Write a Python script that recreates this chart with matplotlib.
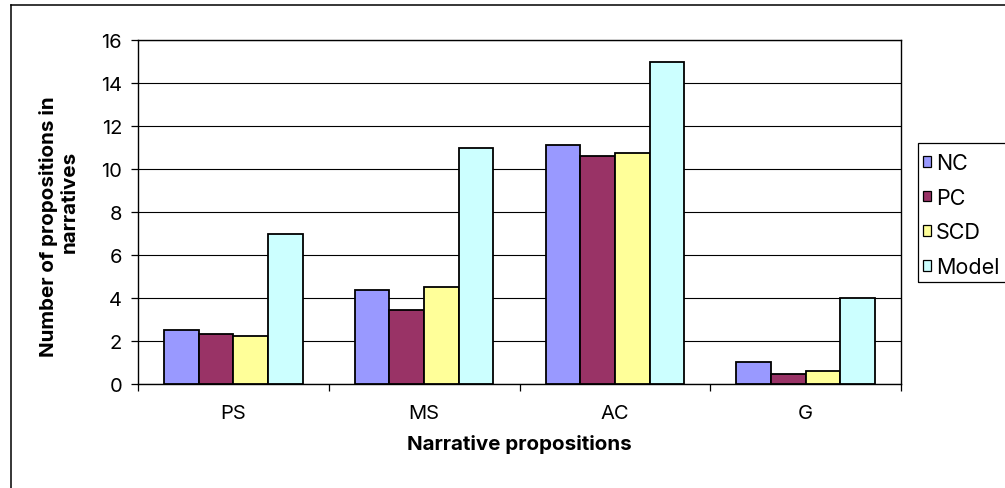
import matplotlib
matplotlib.use("Agg")
import matplotlib.pyplot as plt
from matplotlib.lines import Line2D
from matplotlib.patches import Rectangle
import numpy as np

plt.rcParams['font.family'] = ['Inter', 'DejaVu Sans']

categories = ["PS", "MS", "AC", "G"]
series_names = ["NC", "PC", "SCD", "Model"]
nc_values = [2.53, 4.37, 11.13, 1.01]
pc_values = [2.31, 3.44, 10.60, 0.47]
scd_values = [2.23, 4.53, 10.74, 0.62]
model_values = [7.0, 11.0, 15.0, 4.0]
y_ticks = [0, 2, 4, 6, 8, 10, 12, 14, 16]

series_values = [nc_values, pc_values, scd_values, model_values]
colors = ["#9999FF", "#993366", "#FFFF99", "#CCFFFF"]

W, H = 1005, 489
fig = plt.figure(figsize=(W / 100, H / 100), dpi=100)
ax = fig.add_axes([138 / W, 1 - 385 / H, (901 - 138) / W, (385 - 41) / H])

x = np.arange(len(categories))
width = 1 / 5.5  # four bars plus a 150% gap
for i, (name, vals, col) in enumerate(zip(series_names, series_values, colors)):
    offs = (i - 1.5) * width
    ax.bar(x + offs, vals, width=width, color=col, edgecolor="black",
           linewidth=1.3, label=name, zorder=3)

ax.set_xlim(-0.5, len(categories) - 0.5)
ax.set_ylim(0, 16)
ax.set_yticks(y_ticks)
ax.yaxis.grid(True, color="black", linewidth=0.8, zorder=0)
ax.set_axisbelow(True)

# category labels centred, tick marks on category boundaries
ax.set_xticks(x)
ax.set_xticklabels(categories)
ax.tick_params(axis="x", length=0, labelsize=14.5, pad=14.5)
ax.set_xticks(np.arange(-0.5, len(categories)), minor=True)
ax.tick_params(axis="x", which="minor", length=5, width=0.9, direction="out")
ax.tick_params(axis="y", length=5, width=0.9, labelsize=14.5, pad=6.5)

for sp in ax.spines.values():
    sp.set_color("black")
    sp.set_linewidth(1.0)

# axis titles
fig.text(519 / W, 1 - 450 / H, "Narrative propositions", fontsize=14.8,
         fontweight="bold", ha="center", va="baseline")
fig.text(54 / W, 1 - 227 / H, "Number of propositions in", fontsize=14.8,
         fontweight="bold", ha="center", va="baseline", rotation=90,
         rotation_mode="anchor")
fig.text(75 / W, 1 - 202 / H, "narratives", fontsize=14.8,
         fontweight="bold", ha="center", va="baseline", rotation=90,
         rotation_mode="anchor")

# legend entries, with a separately drawn square frame
leg = fig.legend(loc="upper left", bbox_to_anchor=(923 / W, 1 - 154 / H),
                 frameon=False, fontsize=15.5,
                 handlelength=0.38, handleheight=0.38, handletextpad=0.22,
                 labelspacing=0.68, borderpad=0, borderaxespad=0)
for h in leg.legend_handles:
    h.set_linewidth(0.9)
fig.add_artist(Rectangle((918 / W, 1 - 283 / H), 100 / W, (283 - 144) / H,
                         transform=fig.transFigure, facecolor="none",
                         edgecolor="black", linewidth=0.9))

# chart area frame
fig.add_artist(Line2D([11 / W, 1.0], [1 - 6 / H, 1 - 6 / H],
                      transform=fig.transFigure, color="black", linewidth=1.1))
fig.add_artist(Line2D([11 / W, 11 / W], [0, 1 - 6 / H],
                      transform=fig.transFigure, color="black", linewidth=1.1))

fig.savefig("out.png", dpi=100)
